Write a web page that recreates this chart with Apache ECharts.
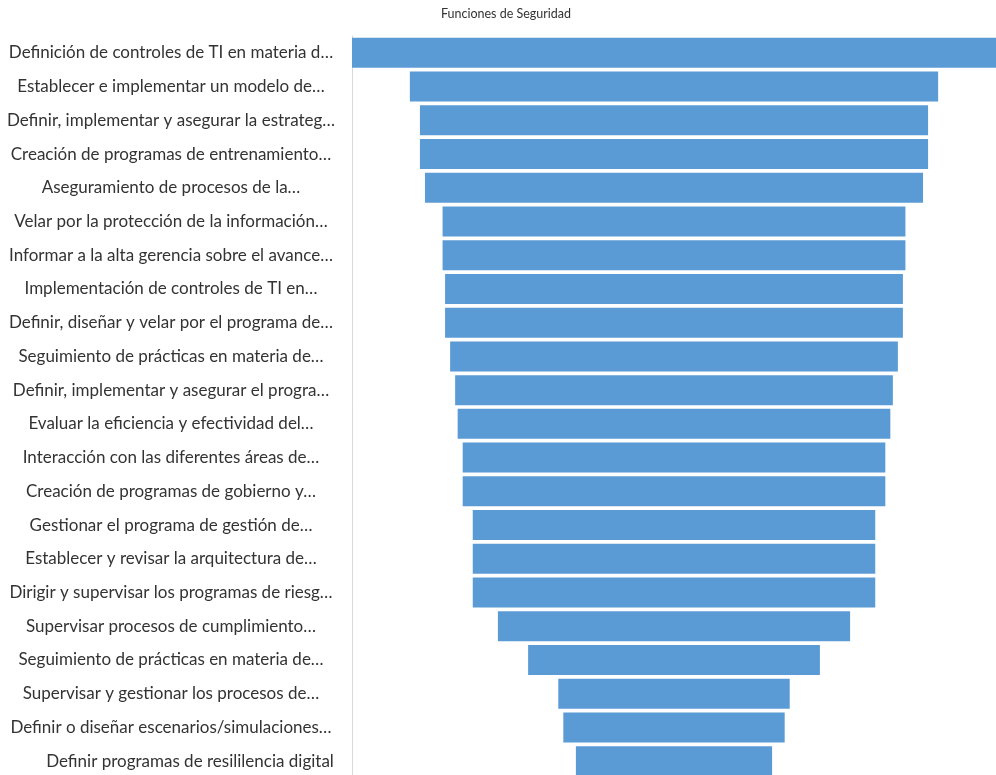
<!DOCTYPE html>
<html>
<head>
<meta charset="utf-8">
<script src="https://cdn.jsdelivr.net/npm/echarts@6/dist/echarts.min.js"></script>
<style>
  html, body { margin: 0; padding: 0; background: #ffffff; }
  #chart { width: 996px; height: 775px; }
</style>
</head>
<body>
<div id="chart"></div>
<script>
// Security functions, ordered from most to least mentioned
const categories = [
  "Definición de controles de TI en materia d…",
  "Establecer e implementar un modelo de…",
  "Definir, implementar y asegurar la estrateg…",
  "Creación de programas de entrenamiento…",
  "Aseguramiento de procesos de la…",
  "Velar por la protección de la información…",
  "Informar a la alta gerencia sobre el avance…",
  "Implementación de controles de TI en…",
  "Definir, diseñar y velar por el programa de…",
  "Seguimiento de prácticas en materia de…",
  "Definir, implementar y asegurar el progra…",
  "Evaluar la eficiencia y efectividad del…",
  "Interacción con las diferentes áreas de…",
  "Creación de programas de gobierno y…",
  "Gestionar el programa de gestión de…",
  "Establecer y revisar la arquitectura de…",
  "Dirigir y supervisar los programas de riesg…",
  "Supervisar procesos de cumplimiento…",
  "Seguimiento de prácticas en materia de…",
  "Supervisar y gestionar los procesos de…",
  "Definir o diseñar escenarios/simulaciones…",
  "Definir programas de resililencia digital"
];

const values = [128, 105, 101, 101, 99, 92, 92, 91, 91, 89, 87, 86, 84, 84, 80, 80, 80, 70, 58, 46, 44, 39];

const chartTitle = "Funciones de Seguridad";

// Funnel layout: an invisible spacer pushes each bar so it sits centred
const maxValue = Math.max(...values);
const spacer = values.map(v => (maxValue - v) / 2);

const fontFamily = "Lato, 'Open Sans', sans-serif";

const chart = echarts.init(document.getElementById('chart'), null, { renderer: 'canvas' });

chart.setOption({
  animation: false,
  backgroundColor: '#ffffff',
  title: {
    text: chartTitle,
    left: 501,
    top: 2,
    textAlign: 'center',
    textStyle: { fontFamily, fontSize: 12.5, fontWeight: 'normal', color: '#333333' }
  },
  grid: {
    left: 352, top: 36, width: 644, height: 742,
    containLabel: false, outerBoundsMode: 'none'
  },
  xAxis: {
    type: 'value',
    min: 0,
    max: maxValue,
    show: false
  },
  yAxis: {
    type: 'category',
    inverse: true,
    data: categories,
    axisLine: { show: true, lineStyle: { color: '#d9d9d9', width: 1 } },
    axisTick: { show: false },
    axisLabel: {
      margin: 181,
      align: 'center',
      fontFamily,
      fontSize: 17,
      color: '#333333',
      // the final, untruncated label sits a little further right
      formatter: (value, index) => index === categories.length - 1 ? '{pad|}' + value : value,
      rich: { pad: { width: 38 } }
    }
  },
  series: [
    {
      name: 'spacer',
      type: 'bar',
      stack: 'funnel',
      data: spacer,
      itemStyle: { color: 'transparent' },
      emphasis: { disabled: true },
      barWidth: 30,
      silent: true
    },
    {
      name: chartTitle,
      type: 'bar',
      stack: 'funnel',
      data: values,
      itemStyle: { color: '#5b9bd5' },
      barWidth: 30
    }
  ]
});
</script>
</body>
</html>
